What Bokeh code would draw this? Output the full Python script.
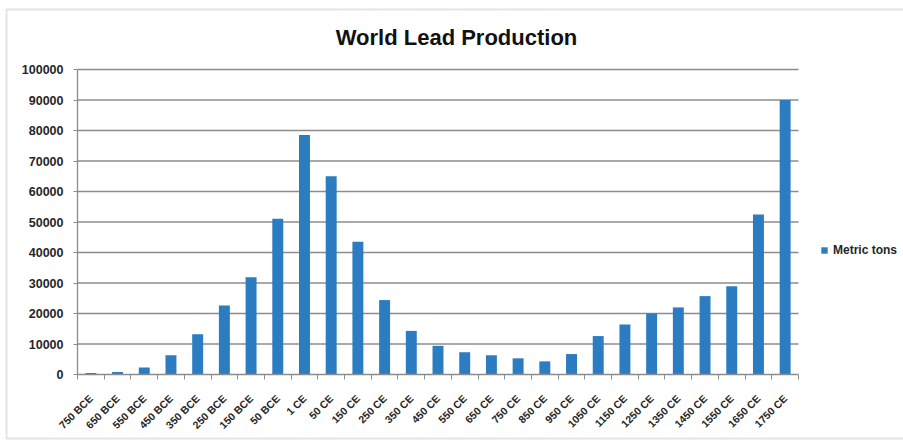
from bokeh.plotting import figure
from bokeh.models import (Range1d, FixedTicker, NumeralTickFormatter,
                          LinearAxis, Legend, LegendItem, BoxAnnotation, Label,
                          ColumnDataSource)
from bokeh.embed import file_html
from bokeh.resources import INLINE
from math import pi

periods = ["750 BCE", "650 BCE", "550 BCE", "450 BCE", "350 BCE", "250 BCE", "150 BCE",
           "50 BCE", "1 CE", "50 CE", "150 CE", "250 CE", "350 CE", "450 CE", "550 CE",
           "650 CE", "750 CE", "850 CE", "950 CE", "1050 CE", "1150 CE", "1250 CE",
           "1350 CE", "1450 CE", "1550 CE", "1650 CE", "1750 CE"]
metric_tons = [500, 800, 2300, 6300, 13200, 22600, 31900, 51100, 78500, 65000, 43500,
               24400, 14300, 9400, 7300, 6300, 5300, 4300, 6700, 12600, 16400, 20000,
               22000, 25700, 28900, 52500, 90000]
y_ticks = [0, 10000, 20000, 30000, 40000, 50000, 60000, 70000, 80000, 90000, 100000]
series_name = "Metric tons"
chart_title = "World Lead Production"

FONT = "Liberation Sans"
TEXT = "#262626"
GRID = "#8c8c8c"
BAR = "#2b7cc1"

# canvas and plot-area geometry (pixels from top-left)
W, H = 903, 445
AREA_L, AREA_R, AREA_T, AREA_B = 77, 798, 69, 374
Y_MAX = y_ticks[-1]

n = len(periods)
centers = [i + 0.5 for i in range(n)]

# the frame covers the whole canvas; ranges are widened so that the
# category/value area lands on the plot area above
px_x = (AREA_R - AREA_L) / n
px_y = (AREA_B - AREA_T) / Y_MAX
x_range = Range1d(-AREA_L / px_x, (W - AREA_L) / px_x)
y_range = Range1d(-(H - AREA_B) / px_y, Y_MAX + AREA_T / px_y)

p = figure(width=W, height=H, output_backend="svg", toolbar_location=None,
           x_range=x_range, y_range=y_range, title_location=None,
           x_axis_location=None, y_axis_location=None,
           min_border=0, min_border_left=0, min_border_right=0,
           min_border_top=0, min_border_bottom=0)
p.outline_line_color = None
p.background_fill_color = "white"
p.border_fill_color = "white"
p.xgrid.visible = False
p.ygrid.visible = False

source = ColumnDataSource(dict(x=centers, tons=metric_tons, period=periods))

# horizontal gridlines across the plot area
grid_src = ColumnDataSource(dict(y=y_ticks[1:], x0=[0] * (len(y_ticks) - 1),
                                 x1=[n] * (len(y_ticks) - 1)))
p.segment(x0="x0", x1="x1", y0="y", y1="y", source=grid_src,
          line_color=GRID, line_width=1.3)

bars = p.vbar(x="x", top="tons", width=0.41, source=source,
              fill_color=BAR, line_color=None)

# x axis: labels at category centres, tick marks at category boundaries
xa = LinearAxis(fixed_location=0, bounds=(0, n))
xa.ticker = FixedTicker(ticks=centers, minor_ticks=list(range(n + 1)))
xa.major_label_overrides = {c: lab for c, lab in zip(centers, periods)}
xa.major_label_orientation = pi / 4
xa.major_tick_out = 0
xa.major_tick_in = 0
xa.minor_tick_out = 5
xa.minor_tick_in = 0
xa.minor_tick_line_color = GRID
xa.axis_line_color = GRID
xa.axis_line_width = 1.3
xa.major_label_text_font = FONT
xa.major_label_text_font_size = "10.5px"
xa.major_label_text_font_style = "bold"
xa.major_label_text_color = TEXT
xa.major_label_standoff = 17
p.add_layout(xa, "below")

# y axis
ya = LinearAxis(fixed_location=0, bounds=(0, Y_MAX))
ya.ticker = FixedTicker(ticks=y_ticks)
ya.formatter = NumeralTickFormatter(format="0")
ya.major_tick_out = 4
ya.major_tick_in = 0
ya.minor_tick_out = 0
ya.minor_tick_in = 0
ya.major_tick_line_color = GRID
ya.axis_line_color = GRID
ya.axis_line_width = 1.3
ya.major_label_text_font = FONT
ya.major_label_text_font_size = "12.5px"
ya.major_label_text_font_style = "bold"
ya.major_label_text_color = TEXT
ya.major_label_standoff = 10
p.add_layout(ya, "left")

# title
p.add_layout(Label(x=456, y=H - 37, x_units="screen", y_units="screen",
                   text=chart_title, text_align="center", text_baseline="alphabetic",
                   text_font=FONT, text_font_size="22px", text_font_style="bold",
                   text_color="#111111"))

# legend to the right of the plot area
legend = Legend(items=[LegendItem(label=series_name, renderers=[bars])],
                location=(820, H - 257), orientation="vertical",
                glyph_width=8, glyph_height=8, label_standoff=5,
                padding=0, margin=0, spacing=0,
                border_line_color=None, background_fill_alpha=0,
                label_text_font=FONT, label_text_font_size="12px",
                label_text_font_style="bold", label_text_color=TEXT)
p.add_layout(legend, "center")

# chart border
p.add_layout(BoxAnnotation(left=6, right=W + 20, top=H - 9, bottom=H - 438,
                           left_units="screen", right_units="screen",
                           top_units="screen", bottom_units="screen",
                           fill_alpha=0, line_color="#a6a6a6", line_width=2,
                           level="overlay"))

open("out.html", "w").write(file_html(p, INLINE))
